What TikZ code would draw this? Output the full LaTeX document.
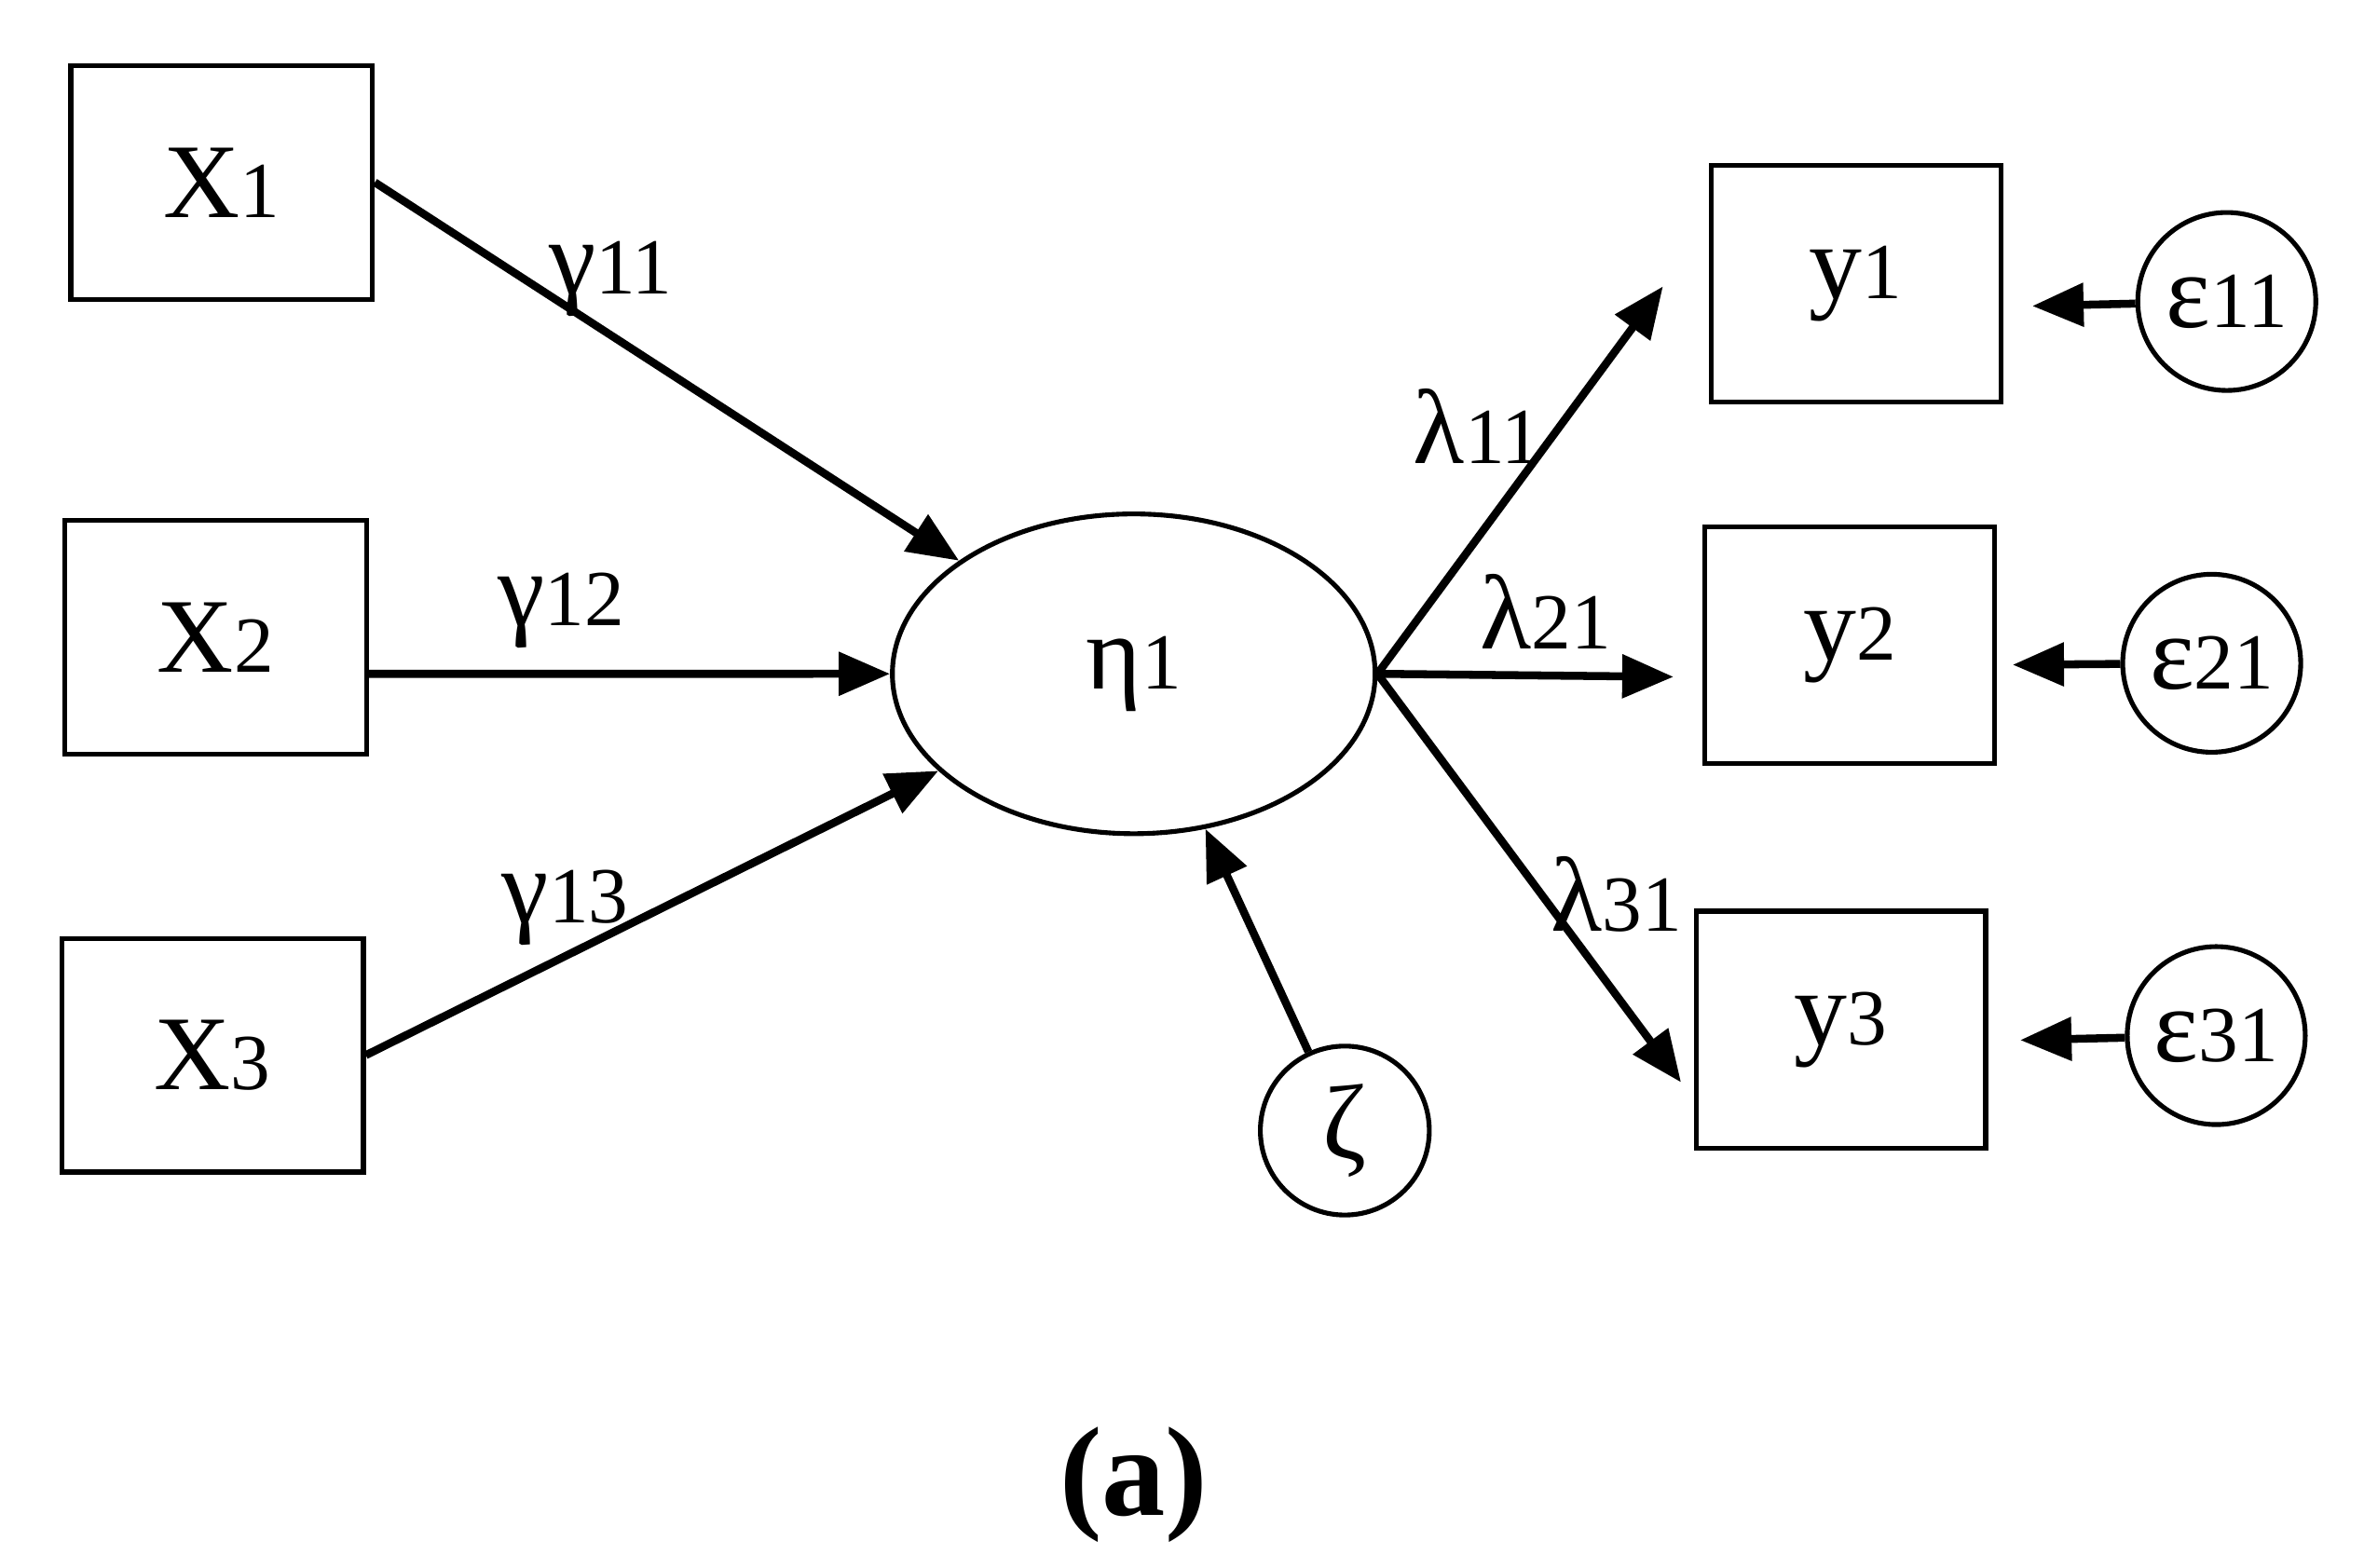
\documentclass[tikz,border=0pt]{standalone}
\usepackage{fontspec}
\setmainfont{Liberation Serif}
\usetikzlibrary{arrows.meta,shapes.geometric}
\newcommand{\mysb}[1]{{\fontsize{15pt}{15pt}\selectfont #1}}
\begin{document}
\begin{tikzpicture}[x=0.01cm,y=-0.01cm,
  every node/.style={font=\fontsize{20pt}{22pt}\selectfont},
  box/.style={draw,line width=0.9pt,minimum width=2.0cm,minimum height=1.55cm,inner sep=0},
  circ/.style={draw,circle,line width=0.9pt,minimum size=1.18cm,inner sep=0},
  arr/.style={line width=1.5pt,-{Triangle[length=0.34cm,width=0.28cm]}},
  lab/.style={font=\fontsize{20pt}{22pt}\selectfont}]
\useasboundingbox (0,0) rectangle (1568,1040);
\node[box] (X1) at (147,121) {X\mysb{1}};
\node[box] (X2) at (143,423) {X\mysb{2}};
\node[box] (X3) at (141,700) {X\mysb{3}};
\node[draw,ellipse,line width=0.9pt,minimum width=3.2cm,minimum height=2.12cm,inner sep=0] (eta) at (752,447) {η\mysb{1}};
\node[box,minimum width=1.92cm,minimum height=1.57cm] (y1) at (1231,188) {y\mysb{1}};
\node[box,minimum width=1.92cm,minimum height=1.57cm] (y2) at (1227,428) {y\mysb{2}};
\node[box,minimum width=1.92cm,minimum height=1.57cm] (y3) at (1221,683) {y\mysb{3}};
\node[circ] (e1) at (1477,200) {ε\mysb{11}};
\node[circ] (e2) at (1467,440) {ε\mysb{21}};
\node[circ] (e3) at (1470,687) {ε\mysb{31}};
\node[circ,minimum size=1.12cm] (z) at (892,750) {ζ};
\coordinate (t1) at (1103,190);
\coordinate (t2) at (1110,449);
\coordinate (t3) at (1115,718);
\coordinate (s1) at (1348,203);
\coordinate (s2) at (1335,441);
\coordinate (s3) at (1340,690);
\draw[arr] (X1.east) -- (eta);
\draw[arr] ([yshift=-0.24cm]X2.east) -- (eta.west);
\draw[arr] (X3.east) -- (eta);
\draw[arr] (z) -- (eta);
\draw[arr] (eta.east) -- (t1);
\draw[arr] (eta.east) -- (t2);
\draw[arr] (eta.east) -- (t3);
\draw[arr] (e1) -- (s1);
\draw[arr] (e2) -- (s2);
\draw[arr] (e3) -- (s3);
\node[lab] (g1) at (405,185) {γ\mysb{11}};
\node[lab] (g2) at (372,405) {γ\mysb{12}};
\node[lab] (g3) at (375,602) {γ\mysb{13}};
\node[lab] (l1) at (980,283) {λ\mysb{11}};
\node[lab] (l2) at (1025,406) {λ\mysb{21}};
\node[lab] (l3) at (1072,593) {λ\mysb{31}};
\node[font=\bfseries\fontsize{24pt}{26pt}\selectfont] (cap) at (752,985) {(a)};
\end{tikzpicture}
\end{document}
